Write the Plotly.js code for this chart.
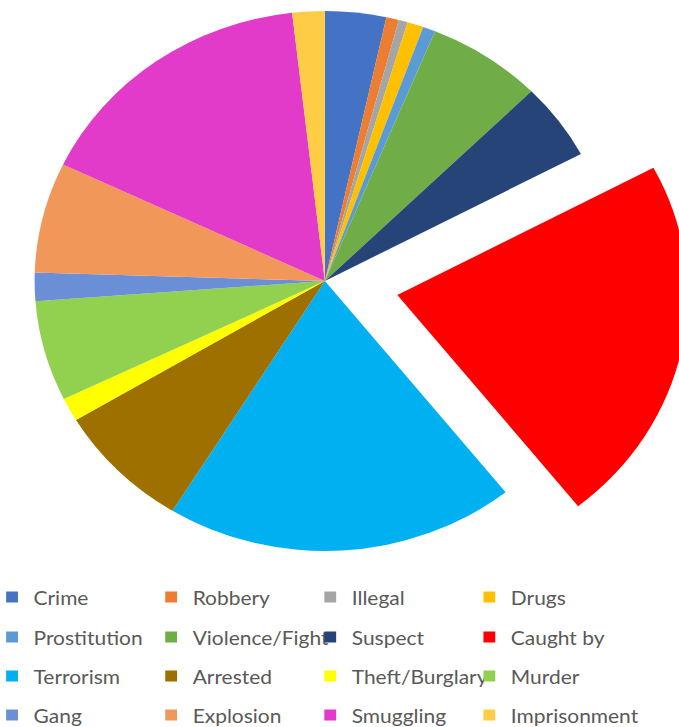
<!DOCTYPE html>
<html>
<head>
<meta charset="utf-8">
<script src="https://cdn.plot.ly/plotly-3.0.1.min.js"></script>
<style>
  html, body { margin: 0; padding: 0; width: 679px; height: 727px; overflow: hidden; background: #ffffff; }
  #chart { position: absolute; left: -45.9px; top: -62px; width: 720px; height: 800px;
           transform: scaleX(1.075); transform-origin: 0 0; }
</style>
</head>
<body>
<div id="chart"></div>
<script>
// ---- data (share of each category, %) ----
const categories = ['Crime', 'Robbery', 'Illegal', 'Drugs',
                    'Prostitution', 'Violence/Fight', 'Suspect', 'Caught by',
                    'Terrorism', 'Arrested', 'Theft/Burglary', 'Murder',
                    'Gang', 'Explosion', 'Smuggling', 'Imprisonment'];
const shares = [3.4, 0.7, 0.5, 0.9,
                0.7, 6.4, 4.6, 22.1,
                19.5, 7.6, 1.4, 6.0,
                1.7, 6.6, 16.1, 1.8];
const colors = ['#4472C4', '#ED7D31', '#A5A5A5', '#FFC000',
                '#5B9BD5', '#70AD47', '#264478', '#FF0000',
                '#00B0F0', '#9E7000', '#FFFF00', '#92D050',
                '#6A8FD6', '#F1975A', '#E23AC9', '#FFCD45'];
const explodedCategory = 'Caught by';

// ---- layout geometry (in un-stretched page pixels) ----
const W = 720, H = 800;
const pullAmount = 0.255;
const pieCx = 345, pieCy = 343, pieHalf = 338.85;
const legendRowsY = [659, 699, 738, 777];
const legendLeft = 34;
const columnsPerRow = 4;
const fontSize = 19.5;
const itemHeight = fontSize * 1.3 + 3;

const pie = {
  type: 'pie',
  labels: categories,
  values: shares,
  marker: { colors: colors, line: { width: 0 } },
  sort: false,
  direction: 'clockwise',
  rotation: 0,
  pull: categories.map(c => c === explodedCategory ? pullAmount : 0),
  textinfo: 'none',
  hoverinfo: 'label+percent',
  showlegend: false,
  domain: {
    x: [(pieCx - pieHalf) / W, (pieCx + pieHalf) / W],
    y: [1 - (pieCy + pieHalf) / H, 1 - (pieCy - pieHalf) / H]
  }
};

const legendIds = ['legend', 'legend2', 'legend3', 'legend4'];
const legendTraces = categories.map((c, i) => ({
  type: 'scatter',
  mode: 'markers',
  x: [null], y: [null],
  name: c,
  legend: legendIds[Math.floor(i / columnsPerRow)],
  legendwidth: (i % columnsPerRow === columnsPerRow - 1) ? 150 : 103,
  marker: { symbol: 'square', size: 11, color: colors[i] },
  hoverinfo: 'skip',
  showlegend: true
}));

const legendBase = {
  orientation: 'h',
  xanchor: 'left',
  yanchor: 'top',
  x: legendLeft / W,
  bgcolor: 'rgba(0,0,0,0)',
  borderwidth: 0,
  entrywidth: 103,
  entrywidthmode: 'pixels',
  font: { family: 'Lato, "Open Sans", sans-serif', size: fontSize, color: '#595959' }
};

const layout = {
  width: W,
  height: H,
  margin: { l: 0, r: 0, t: 0, b: 0, autoexpand: false },
  paper_bgcolor: '#ffffff',
  plot_bgcolor: '#ffffff',
  xaxis: { visible: false },
  yaxis: { visible: false },
  showlegend: true
};
legendIds.forEach((id, r) => {
  layout[id] = Object.assign({}, legendBase, {
    y: 1 - (legendRowsY[r] - 5 - itemHeight / 2) / H
  });
});

Plotly.newPlot('chart', [pie].concat(legendTraces), layout, { displayModeBar: false, staticPlot: true });
</script>
</body>
</html>
